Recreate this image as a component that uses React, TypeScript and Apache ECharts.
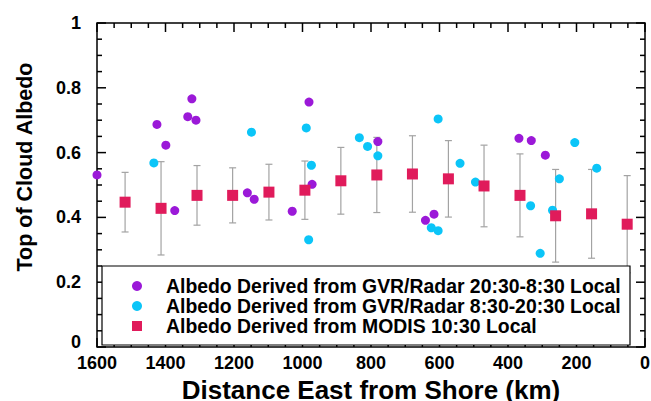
import React, { useEffect, useRef } from "react";
import * as echarts from "echarts";

// GVR/Radar 20:30-8:30 Local (purple)
const nightX = [1600, 1425, 1399, 1373, 1335, 1323, 1311, 1161, 1141, 1030, 981, 972, 780, 641, 616, 368, 332, 291];
const nightY = [0.531, 0.687, 0.623, 0.421, 0.711, 0.766, 0.70, 0.476, 0.456, 0.419, 0.756, 0.502, 0.634, 0.391, 0.410, 0.644, 0.637, 0.592];

// GVR/Radar 8:30-20:30 Local (cyan)
const dayX = [1434, 1149, 989, 982, 974, 834, 810, 780, 624, 604, 604, 540, 495, 334, 306, 270, 250, 205, 141];
const dayY = [0.568, 0.663, 0.676, 0.331, 0.561, 0.646, 0.619, 0.59, 0.368, 0.359, 0.704, 0.567, 0.509, 0.436, 0.289, 0.422, 0.519, 0.631, 0.552];

// MODIS 10:30 Local (squares with error bars)
const modisX = [1518, 1413, 1308, 1204, 1098, 993, 888, 783, 679, 574, 470, 365, 261, 156, 52];
const modisY = [0.447, 0.428, 0.468, 0.468, 0.478, 0.484, 0.513, 0.531, 0.534, 0.519, 0.497, 0.468, 0.405, 0.411, 0.379];
const modisErr = [0.092, 0.144, 0.092, 0.085, 0.086, 0.09, 0.103, 0.116, 0.118, 0.118, 0.126, 0.128, 0.143, 0.137, 0.15];

const xTicks = [0, 200, 400, 600, 800, 1000, 1200, 1400, 1600];
const yTicks = [0, 0.2, 0.4, 0.6, 0.8, 1];

const NAME_NIGHT = "Albedo Derived from GVR/Radar 20:30-8:30 Local";
const NAME_DAY = "Albedo Derived from GVR/Radar 8:30-20:30 Local";
const NAME_MODIS = "Albedo Derived from MODIS 10:30 Local";

const FONT = "'Liberation Sans', Arial, sans-serif";

function minorValues(ticks: number[]) {
  const out: number[] = [];
  for (let i = 0; i < ticks.length - 1; i++) {
    for (let k = 1; k < 4; k++) out.push(ticks[i] + ((ticks[i + 1] - ticks[i]) * k) / 4);
  }
  return out;
}

export default function App() {
  const ref = useRef<HTMLDivElement>(null);
  useEffect(() => {
    if (!ref.current) return;
    const chart = echarts.init(ref.current, undefined, { renderer: "svg" });
    const xMin = xTicks[0];
    const xMax = xTicks[xTicks.length - 1];
    const yMin = yTicks[0];
    const yMax = yTicks[yTicks.length - 1];
    const xMinor = minorValues(xTicks);
    const yMinor = minorValues(yTicks);
    const errData = modisX.map((x, i) => [x, modisY[i] - modisErr[i], modisY[i] + modisErr[i]]);
    chart.setOption({
      animation: false,
      textStyle: { fontFamily: FONT },
      grid: { left: 97, right: 6, top: 23, bottom: 54, outerBoundsMode: "none" },
      xAxis: {
        type: "value",
        position: "bottom",
        inverse: true,
        min: xMin,
        max: xMax,
        interval: 200,
        axisLine: { show: false, onZero: false },
        axisTick: { show: false },
        minorTick: { show: false },
        splitLine: { show: false },
        axisLabel: {
          show: true,
          color: "#000",
          fontSize: 18,
          fontWeight: "bold",
          margin: 7,
          fontFamily: FONT,
          formatter: (v: number) => String(v),
        },
        name: "Distance East from Shore (km)",
        nameLocation: "middle",
        nameGap: 25,
        nameTextStyle: { color: "#000", fontSize: 26, fontWeight: "bold", fontFamily: FONT },
      },
      yAxis: {
        type: "value",
        position: "left",
        min: yMin,
        max: yMax,
        interval: 0.2,
        axisLine: { show: false, onZero: false },
        axisTick: { show: false },
        minorTick: { show: false },
        splitLine: { show: false },
        axisLabel: {
          show: true,
          color: "#000",
          fontSize: 18,
          fontWeight: "bold",
          margin: 16,
          fontFamily: FONT,
          formatter: (v: number) => (v === 0 ? "{z|0}" : String(v)),
          rich: {
            z: {
              color: "#000",
              fontSize: 18,
              fontWeight: "bold",
              fontFamily: FONT,
              padding: [0, 0, 10, 0],
            },
          },
        },
        name: "Top of Cloud Albedo",
        nameLocation: "middle",
        nameGap: 61,
        nameTextStyle: {
          color: "#000",
          fontSize: 21.5,
          fontWeight: "bold",
          fontFamily: FONT,
          padding: [0, 0, 0, 36],
        },
      },
      legend: {
        show: true,
        orient: "vertical",
        left: 132,
        top: 276,
        padding: 0,
        itemGap: 0,
        itemWidth: 10,
        itemHeight: 10,
        z: 10,
        data: [
          { name: NAME_NIGHT, icon: "circle" },
          { name: NAME_DAY, icon: "circle" },
          { name: NAME_MODIS, icon: "rect" },
        ],
        textStyle: {
          color: "#000",
          fontSize: 19.4,
          fontWeight: "bold",
          fontFamily: FONT,
          lineHeight: 20,
          padding: [0, 0, 0, 19],
        },
      },
      graphic: [
        {
          type: "rect",
          z: 8,
          shape: { x: 102, y: 266, width: 528, height: 79 },
          style: { fill: "#fff", stroke: "#000", lineWidth: 1.2 },
        },
      ],
      series: [
        {
          name: "frame",
          type: "custom",
          z: 1,
          silent: true,
          clip: false,
          data: [[xMin, yMin]],
          renderItem: (params: any, api: any) => {
            const a = api.coord([xMin, yMin]);
            const b = api.coord([xMax, yMax]);
            const L = Math.min(a[0], b[0]);
            const R = Math.max(a[0], b[0]);
            const T = Math.min(a[1], b[1]);
            const B = Math.max(a[1], b[1]);
            const st = { stroke: "#000", lineWidth: 1.5, fill: "none" };
            const children: any[] = [
              { type: "rect", shape: { x: L, y: T, width: R - L, height: B - T }, style: st },
            ];
            const xT = (v: number, len: number) => {
              const px = api.coord([v, yMin])[0];
              children.push({ type: "line", shape: { x1: px, y1: B, x2: px, y2: B - len }, style: st });
              children.push({ type: "line", shape: { x1: px, y1: T, x2: px, y2: T + len }, style: st });
            };
            const yT = (v: number, len: number) => {
              const py = api.coord([xMin, v])[1];
              children.push({ type: "line", shape: { x1: L, y1: py, x2: L + len, y2: py }, style: st });
              children.push({ type: "line", shape: { x1: R, y1: py, x2: R - len, y2: py }, style: st });
            };
            xTicks.forEach((v) => xT(v, 9));
            xMinor.forEach((v) => xT(v, 5));
            yTicks.forEach((v) => yT(v, 9));
            yMinor.forEach((v) => yT(v, 5));
            return { type: "group", children };
          },
        },
        {
          name: "errbars",
          type: "custom",
          z: 2,
          data: errData,
          renderItem: (params: any, api: any) => {
            const x = api.value(0);
            const lo = api.coord([x, api.value(1)]);
            const hi = api.coord([x, api.value(2)]);
            const cap = 3.5;
            const style = { stroke: "#a3a3a3", lineWidth: 1.2 };
            return {
              type: "group",
              children: [
                { type: "line", shape: { x1: lo[0], y1: lo[1], x2: hi[0], y2: hi[1] }, style },
                { type: "line", shape: { x1: hi[0] - cap, y1: hi[1], x2: hi[0] + cap, y2: hi[1] }, style },
                { type: "line", shape: { x1: lo[0] - cap, y1: lo[1], x2: lo[0] + cap, y2: lo[1] }, style },
              ],
            };
          },
        },
        {
          name: NAME_NIGHT,
          type: "scatter",
          symbol: "circle",
          symbolSize: 9,
          z: 3,
          itemStyle: { color: "#9b19d8", opacity: 1 },
          data: nightX.map((x, i) => [x, nightY[i]]),
        },
        {
          name: NAME_DAY,
          type: "scatter",
          symbol: "circle",
          symbolSize: 9,
          z: 3,
          itemStyle: { color: "#0bc5f8", opacity: 1 },
          data: dayX.map((x, i) => [x, dayY[i]]),
        },
        {
          name: NAME_MODIS,
          type: "scatter",
          symbol: "rect",
          symbolSize: 11,
          z: 4,
          itemStyle: { color: "#e01b5b", opacity: 1 },
          data: modisX.map((x, i) => [x, modisY[i]]),
        },
      ],
    });
    return () => chart.dispose();
  }, []);
  return (
    <div
      ref={ref}
      style={{ position: "fixed", left: 0, top: 0, width: 651, height: 401, background: "#fff" }}
    />
  );
}
